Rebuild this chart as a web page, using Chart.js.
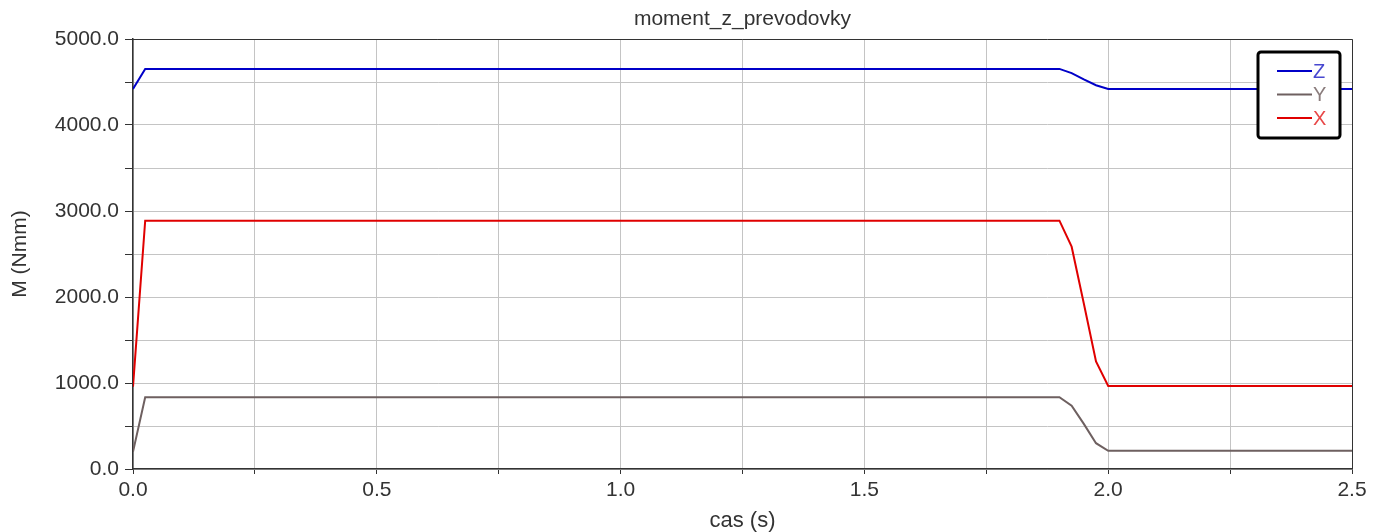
<!DOCTYPE html>
<html>
<head>
<meta charset="utf-8">
<script src="https://cdn.jsdelivr.net/npm/chart.js@4/dist/chart.umd.min.js"></script>
<style>
  html, body { margin: 0; padding: 0; background: #fff; }
  #wrap { width: 1374px; height: 532px; position: relative; }
</style>
</head>
<body>
<div id="wrap"><canvas id="chart"></canvas></div>
<script>
const chartTitle = "moment_z_prevodovky";
const xTitle = "cas (s)";
const yTitle = "M (Nmm)";

const times = [0, 0.025, 1.9, 1.925, 1.95, 1.975, 2.0, 2.5];
const zValues = [4420, 4652, 4652, 4603, 4530, 4462, 4418, 4418];
const yValues = [200, 835, 835, 735, 525, 300, 212, 212];
const xValues = [957, 2888, 2888, 2585, 1925, 1250, 965, 965];

const seriesNames = ["Z", "Y", "X"];
const seriesColors = ["#0000c8", "#6e6060", "#e00000"];
const legendTextColors = ["#4848d0", "#8a7c7c", "#e84848"];

function toPoints(values) {
  return times.map((t, i) => ({ x: t, y: values[i] }));
}

const FONT = "'Liberation Sans', Arial, sans-serif";

const frameAndLegend = {
  id: "frameAndLegend",
  afterDatasetsDraw(chart) {
    const { ctx, chartArea: a } = chart;
    ctx.save();
    ctx.strokeStyle = "#333";
    ctx.lineWidth = 1;
    ctx.beginPath();
    ctx.moveTo(a.left, a.top + 0.5);
    ctx.lineTo(a.right + 0.5, a.top + 0.5);
    ctx.lineTo(a.right + 0.5, a.bottom);
    ctx.stroke();

    // title centred over the plot area
    ctx.fillStyle = "#333";
    ctx.font = "21px " + FONT;
    ctx.textAlign = "center";
    ctx.textBaseline = "middle";
    ctx.fillText(chartTitle, (a.left + a.right) / 2, 19);

    // legend box
    const w = 82, h = 86;
    const x0 = a.right - 12 - w, y0 = a.top + 13;
    ctx.fillStyle = "#fff";
    ctx.beginPath();
    ctx.roundRect(x0, y0, w, h, 3);
    ctx.fill();
    ctx.lineWidth = 3;
    ctx.strokeStyle = "#000";
    ctx.stroke();

    ctx.font = "20px " + FONT;
    ctx.textBaseline = "middle";
    ctx.textAlign = "left";
    seriesNames.forEach((name, i) => {
      const yy = y0 + 19 + i * 23.5;
      ctx.strokeStyle = seriesColors[i];
      ctx.lineWidth = 2;
      ctx.beginPath();
      ctx.moveTo(x0 + 19, yy);
      ctx.lineTo(x0 + 54, yy);
      ctx.stroke();
      ctx.fillStyle = legendTextColors[i];
      ctx.fillText(name, x0 + 55, yy + 1);
    });
    ctx.restore();
  }
};

new Chart(document.getElementById("chart"), {
  type: "line",
  data: {
    datasets: [
      { label: "Z", data: toPoints(zValues), borderColor: seriesColors[0], borderWidth: 2, pointRadius: 0, tension: 0 },
      { label: "Y", data: toPoints(yValues), borderColor: seriesColors[1], borderWidth: 2, pointRadius: 0, tension: 0 },
      { label: "X", data: toPoints(xValues), borderColor: seriesColors[2], borderWidth: 2, pointRadius: 0, tension: 0 }
    ]
  },
  options: {
    responsive: true,
    maintainAspectRatio: false,
    animation: false,
    layout: { padding: { left: 0, right: 22, top: 39, bottom: 0 } },
    plugins: {
      legend: { display: false },
      tooltip: { enabled: false },
      title: { display: false }
    },
    scales: {
      x: {
        type: "linear",
        min: 0,
        max: 2.5,
        afterFit(scale) { scale.height = 63; },
        border: { color: "#333", width: 1.5 },
        grid: { color: "#c4c4c4", lineWidth: 1, tickLength: 5, tickColor: "#333" },
        ticks: {
          stepSize: 0.25,
          padding: 4,
          color: "#333",
          maxRotation: 0,
          autoSkip: false,
          font: { family: FONT, size: 21 },
          callback: (v) => (Math.abs(v * 2 - Math.round(v * 2)) < 1e-6 ? v.toFixed(1) : "")
        },
        title: {
          display: true,
          text: xTitle,
          color: "#333",
          font: { family: FONT, size: 22, lineHeight: 1 },
          padding: { top: 0, bottom: 0 }
        }
      },
      y: {
        min: 0,
        max: 5000,
        afterFit(scale) { scale.width = 133; },
        border: { color: "#333", width: 1.5 },
        grid: { color: "#c4c4c4", lineWidth: 1, tickLength: 8, tickColor: "#333" },
        ticks: {
          stepSize: 500,
          padding: 6,
          color: "#333",
          autoSkip: false,
          font: { family: FONT, size: 21 },
          callback: (v) => (v % 1000 === 0 ? v.toFixed(1) : "")
        },
        title: {
          display: true,
          text: yTitle,
          color: "#333",
          font: { family: FONT, size: 21 },
          padding: { top: 8, bottom: 0 }
        }
      }
    }
  },
  plugins: [frameAndLegend]
});
</script>
</body>
</html>
